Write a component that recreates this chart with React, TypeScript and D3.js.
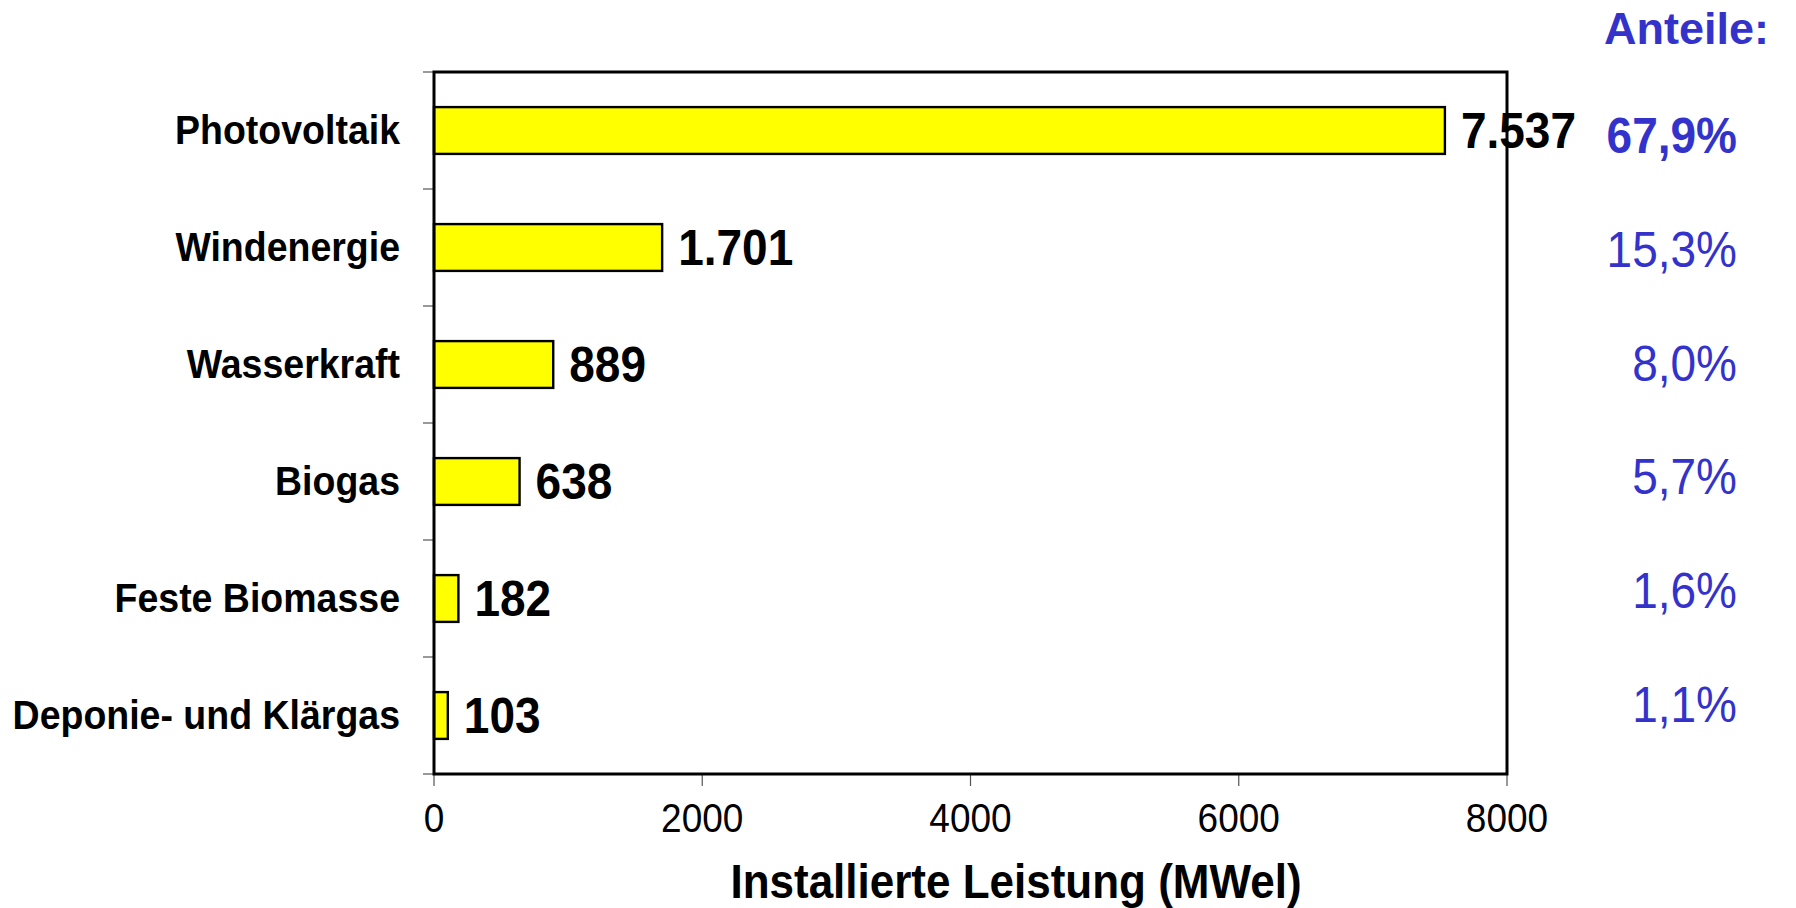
import React from "react";
import * as d3 from "d3";

const categories = ["Photovoltaik", "Windenergie", "Wasserkraft", "Biogas", "Feste Biomasse", "Deponie- und Klärgas"];
const values = [7537, 1701, 889, 638, 182, 103];
const valueLabels = ["7.537", "1.701", "889", "638", "182", "103"];
const shares = ["67,9%", "15,3%", "8,0%", "5,7%", "1,6%", "1,1%"];
const xTicks = [0, 2000, 4000, 6000, 8000];
const sharesTitle = "Anteile:";
const xTitle = "Installierte Leistung (MWel)";

const W = 1796, H = 908;
const L = 434, R = 1507, T = 72, B = 774;
const FONT = "'Liberation Sans', Arial, Helvetica, sans-serif";
const BLUE = "#3333CC";
const SY = 1.08;

function T2(props: { x: number; y: number; children: any; [k: string]: any }) {
  const { x, y, children, ...rest } = props;
  return (
    <text transform={`translate(${x},${y}) scale(1,${SY})`} {...rest}>{children}</text>
  );
}

export default function App() {
  const x = d3.scaleLinear().domain([0, 8000]).range([L, R]);
  const y = d3.scaleBand<string>().domain(categories).range([T, B]).paddingInner(0.6).paddingOuter(0.3);
  const step = y.step();
  const boundaries = d3.range(categories.length + 1).map((i) => T + i * step);
  const shareY = d3.scaleLinear().domain([0, shares.length - 1]).range([153, 722]);

  return (
    <svg width={W} height={H} style={{ position: "absolute", left: 0, top: 0, background: "#fff" }} fontFamily={FONT}>
      {boundaries.map((b, i) => (
        <line key={"ct" + i} x1={L - 11} x2={L} y1={b} y2={b} stroke="#555" strokeWidth={1.2} />
      ))}
      {xTicks.map((t) => (
        <g key={"xt" + t}>
          <line x1={x(t)} x2={x(t)} y1={B} y2={B + 12} stroke="#555" strokeWidth={1.2} />
          <T2 x={x(t)} y={832} textAnchor="middle" fontSize={37} fill="#000">{t}</T2>
        </g>
      ))}
      {categories.map((c, i) => (
        <rect key={"b" + c} x={x(0)} y={y(c)!} width={x(values[i]) - x(0)} height={y.bandwidth()}
          fill="#FFFF00" stroke="#000" strokeWidth={2.4} />
      ))}
      <rect x={L} y={T} width={R - L} height={B - T} fill="none" stroke="#000" strokeWidth={3} />
      {categories.map((c) => (
        <T2 key={"cl" + c} x={400} y={y(c)! + y.bandwidth() / 2 + 13} textAnchor="end" fontSize={37.5} fontWeight="bold" fill="#000">{c}</T2>
      ))}
      {categories.map((c, i) => (
        <T2 key={"vl" + c} x={x(values[i]) + 16} y={y(c)! + y.bandwidth() / 2 + 17.5} fontSize={46} fontWeight="bold" fill="#000">{valueLabels[i]}</T2>
      ))}
      <text x={1604} y={44} fontSize={45} fontWeight="bold" fill={BLUE}>{sharesTitle}</text>
      {shares.map((s, i) => (
        <T2 key={"s" + i} x={1737} y={shareY(i)} textAnchor="end" fontSize={46} fontWeight={i === 0 ? "bold" : "normal"} fill={BLUE}>{s}</T2>
      ))}
      <T2 x={1016} y={898} textAnchor="middle" fontSize={44} fontWeight="bold" fill="#000">{xTitle}</T2>
    </svg>
  );
}
